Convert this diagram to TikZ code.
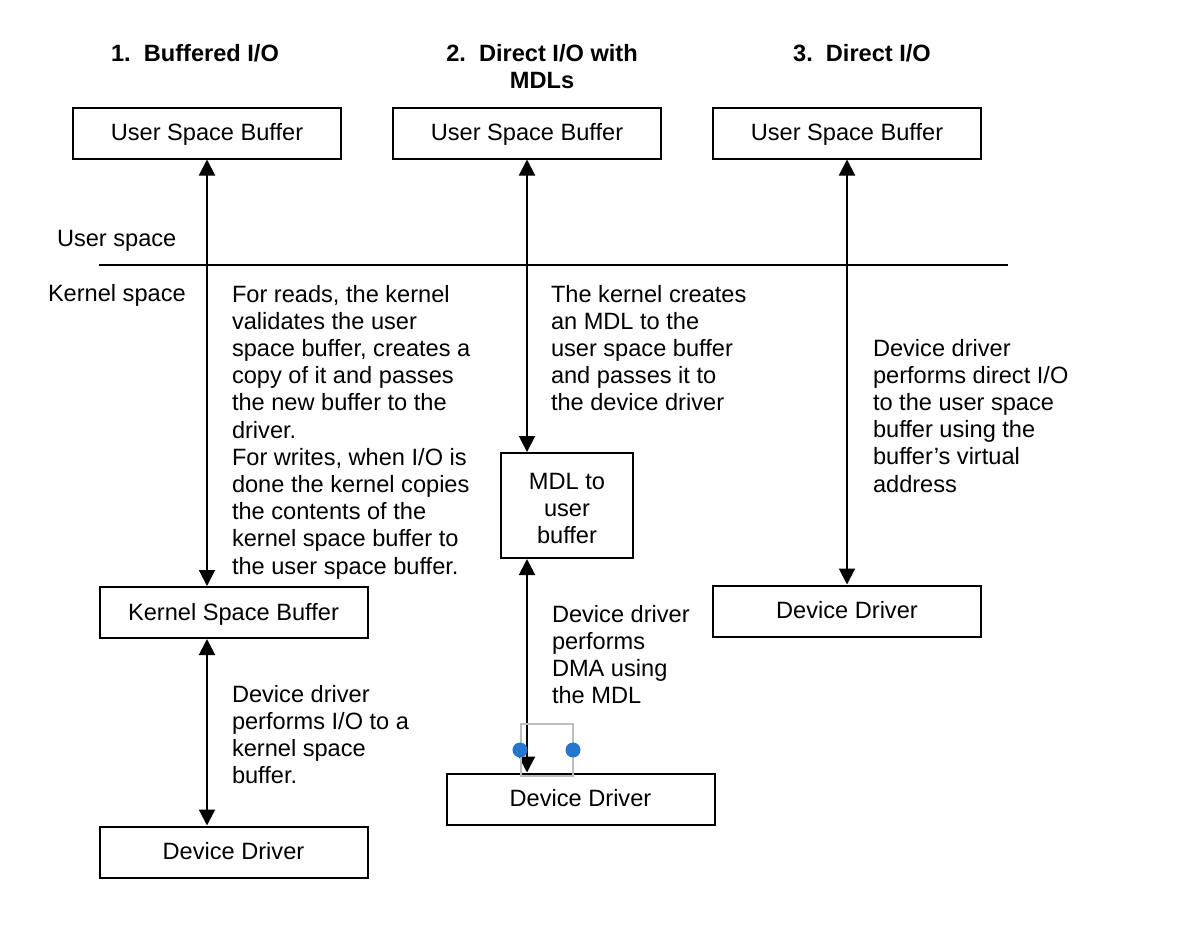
\documentclass[tikz,border=0pt]{standalone}
\usepackage{fontspec}
\setmainfont{Liberation Sans}
\usepackage{tikz}
\usetikzlibrary{arrows.meta}
\definecolor{selblue}{RGB}{36,118,206}
\definecolor{selgray}{RGB}{190,190,190}

\begin{document}
\begin{tikzpicture}[x=0.5pt, y=-0.5pt, line width=1pt,
    font=\fontsize{11.8}{13.6}\selectfont,
    >={Triangle[width=8pt,length=8pt]},
    box/.style={draw, minimum width=134pt, minimum height=25.5pt, inner sep=0pt, text height=10pt, text depth=2.5pt},
    head/.style={font=\fontsize{11.8}{13.6}\selectfont\bfseries, align=center},
    txt/.style={anchor=north west, align=left, inner sep=0pt}]
        \useasboundingbox (0,0) rectangle (1178,938);

        % headings
        \node[head] (h1) at (195, 53) {1.~~Buffered I/O};
        \node[head, anchor=north] (h2) at (542, 37) {2.~~Direct I/O with\\MDLs};
        \node[head] (h3) at (862, 53) {3.~~Direct I/O};

        % boxes
        \node[box] (usb1) at (207, 133) {User Space Buffer};
        \node[box] (usb2) at (527, 133) {User Space Buffer};
        \node[box] (usb3) at (847, 133) {User Space Buffer};
        \node[box] (ksb)  at (233.5, 612.5) {Kernel Space Buffer};
        \node[box] (dd1)  at (233.5, 852) {Device Driver};
        \node[draw, inner sep=0pt, minimum width=66pt, minimum height=52.5pt, align=center] (mdl) at (567, 505.5) {};
        \node[align=center, inner sep=0pt, anchor=north] (mdlt) at (567, 472) {MDL to\\user\\buffer};
        \node[box] (dd2)  at (580.5, 799) {Device Driver};
        \node[box] (dd3)  at (847, 611) {Device Driver};

        % user / kernel split
        \coordinate (sl) at (99, 265);
        \coordinate (sr) at (1008, 265);
        \draw (sl) -- (sr);
        \node[txt] (us) at (56, 229) {User space};
        \node[txt] (ks) at (47, 283) {Kernel space};

        % arrows
        \draw[<->] (usb1.south) -- (usb1.south |- ksb.north);
        \draw[<->] (usb1.south |- ksb.south) -- (usb1.south |- dd1.north);
        \draw[<->] (usb2.south) -- (usb2.south |- mdl.north);
        \draw[<->] (usb2.south |- mdl.south) -- (usb2.south |- dd2.north);
        \draw[<->] (usb3.south) -- (usb3.south |- dd3.north);

        % notes
        \node[txt] (n1) at (231, 284) {For reads, the kernel\\validates the user\\space buffer, creates a\\copy of it and passes\\the new buffer to the\\driver.\\For writes, when I/O is\\done the kernel copies\\the contents of the\\kernel space buffer to\\the user space buffer.};
        \node[txt] (n1b) at (231, 684) {Device driver\\performs I/O to a\\kernel space\\buffer.};
        \node[txt] (n2) at (550, 284) {The kernel creates\\an MDL to the\\user space buffer\\and passes it to\\the device driver};
        \node[txt] (n2b) at (551, 604) {Device driver\\performs\\DMA using\\the MDL};
        \node[txt] (n3) at (872, 338) {Device driver\\performs direct I/O\\to the user space\\buffer using the\\buffer’s virtual\\address};

        % selection handles
        \draw[selgray, line width=0.7pt] (521, 724) rectangle (573, 776);
        \fill[selblue] (520, 750) circle (7.5);
        \fill[selblue] (573, 750) circle (7.5);

      \end{tikzpicture}
\end{document}
